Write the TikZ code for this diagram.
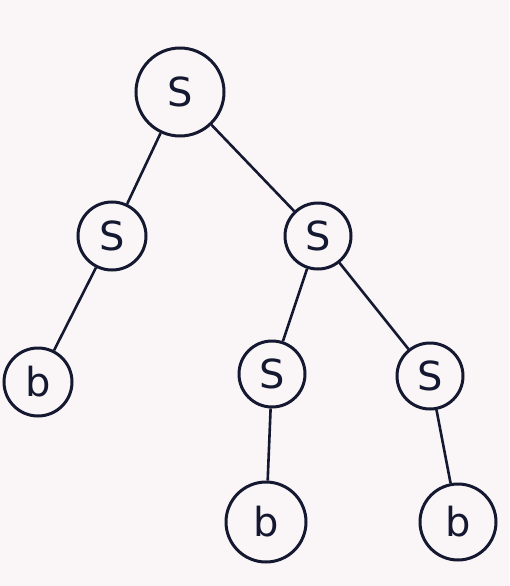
\documentclass[tikz,border=0pt]{standalone}
\usepackage{fontspec}
\setsansfont{DejaVu Sans}
\definecolor{ink}{HTML}{141830}
\definecolor{paper}{HTML}{FAF6F7}
\begin{document}
\begin{tikzpicture}[x=1pt,y=-1pt,
  nd/.style={draw=ink,line width=3pt,circle,inner sep=0pt,text=ink,font=\fontsize{40}{40}\sffamily},
  edge/.style={draw=ink,line width=2.6pt}]
\fill[paper] (0,0) rectangle (509,586);
\useasboundingbox (0,0) rectangle (509,586);
\node[nd,minimum size=88pt] (r) at (180,92) {S};
\node[nd,minimum size=68pt] (l) at (112,236) {S};
\node[nd,minimum size=66pt] (rs) at (318,236) {S};
\node[nd,minimum size=68pt] (b1) at (38,382) {b};
\node[nd,minimum size=66pt] (s2) at (272,374) {S};
\node[nd,minimum size=66pt] (s3) at (430,376) {S};
\node[nd,minimum size=80pt] (b2) at (266,522) {b};
\node[nd,minimum size=76pt] (b3) at (458,522) {b};
\draw[edge] (r) -- (l);
\draw[edge] (r) -- (rs);
\draw[edge] (l) -- (b1);
\draw[edge] (rs) -- (s2);
\draw[edge] (rs) -- (s3);
\draw[edge] (s2) -- (b2);
\draw[edge] (s3) -- (b3);
\end{tikzpicture}
\end{document}
